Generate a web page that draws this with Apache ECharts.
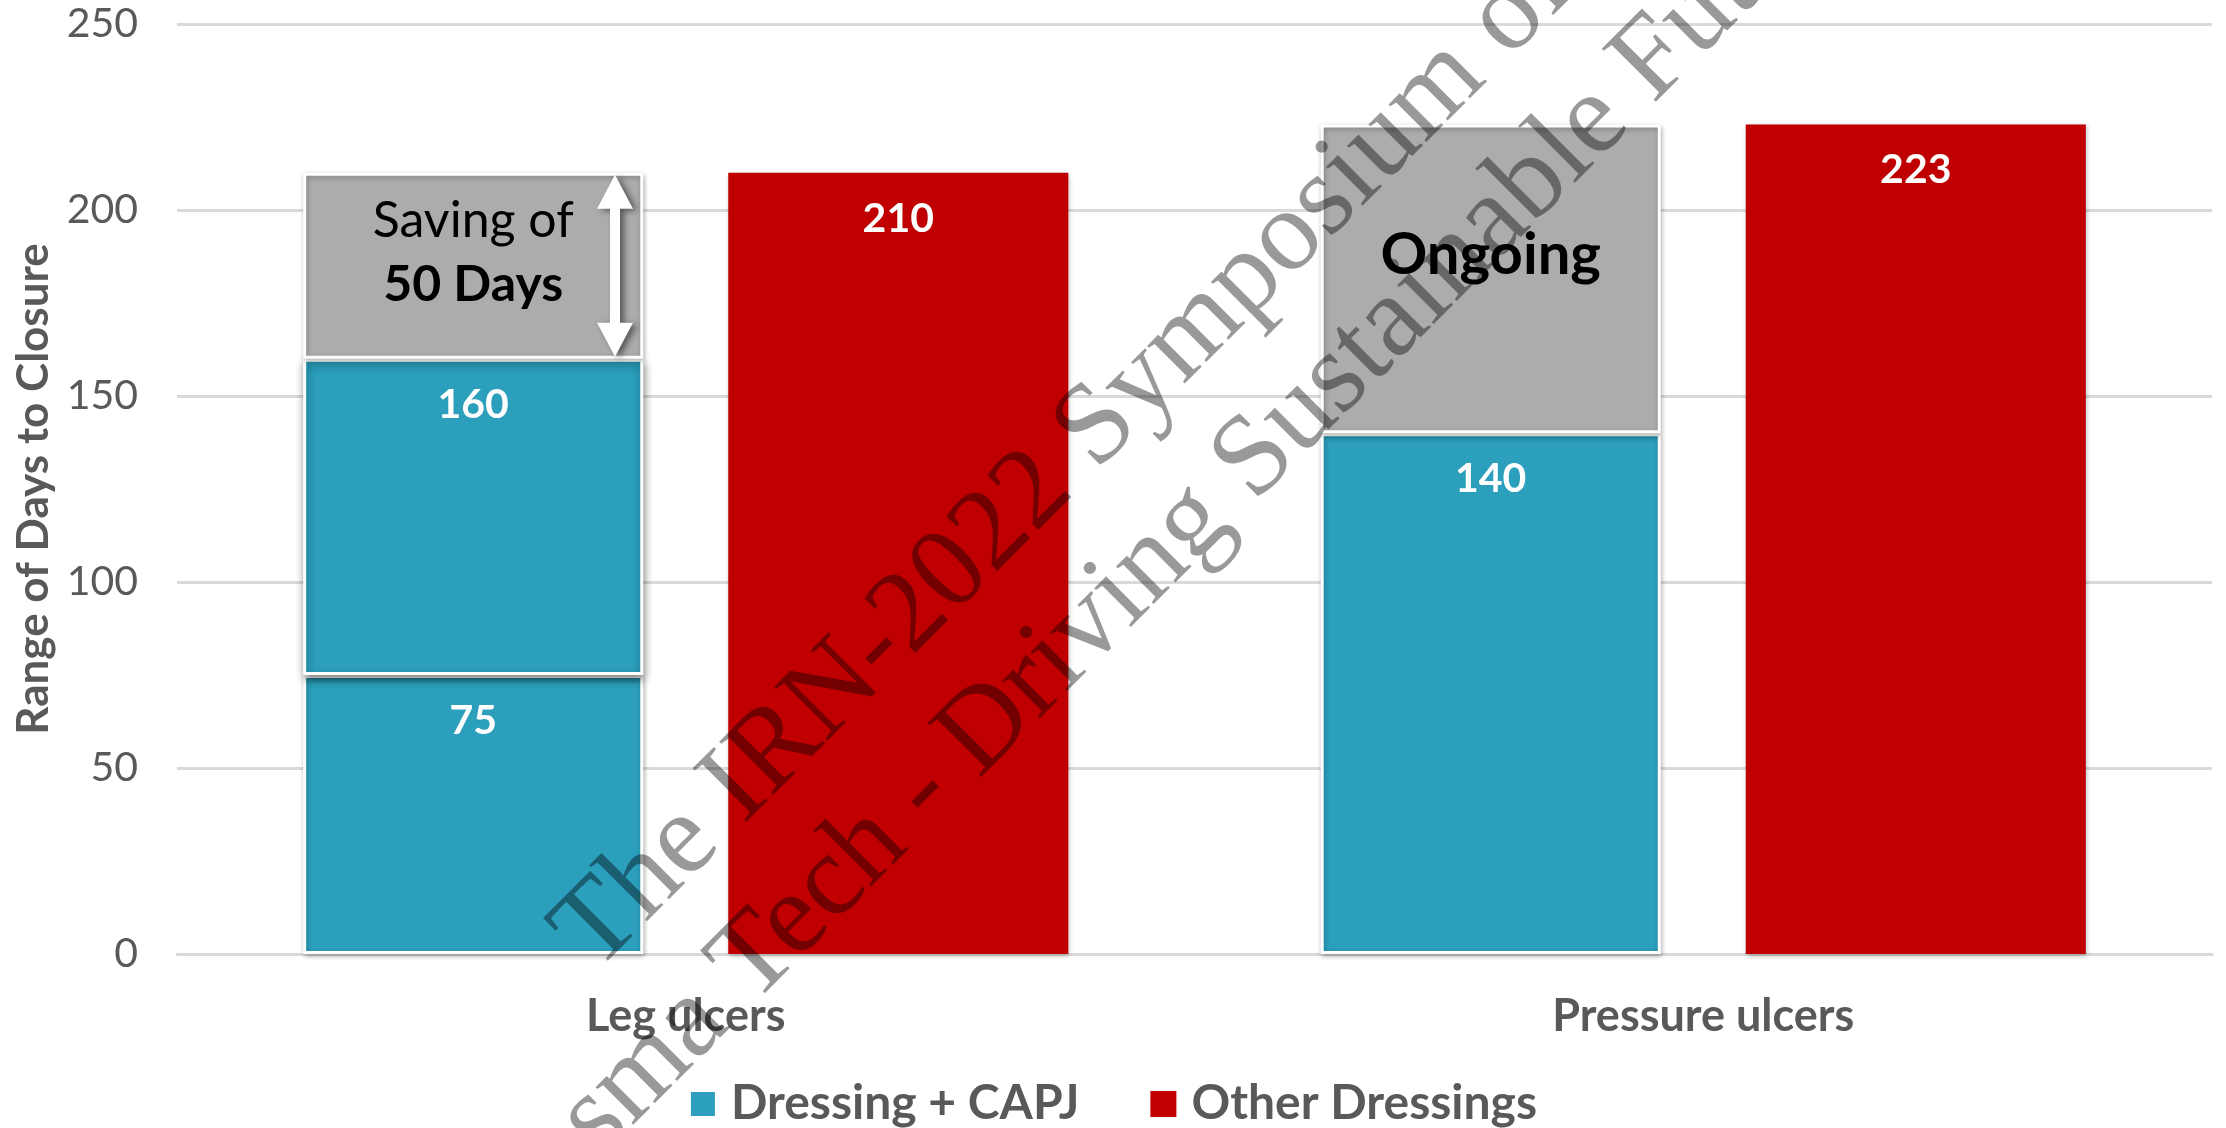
<!DOCTYPE html>
<html><head><meta charset="utf-8">
<script src="https://cdn.jsdelivr.net/npm/echarts@6/dist/echarts.min.js"></script>
<style>html,body{margin:0;padding:0;background:#fff}#c{width:2226px;height:1128px}</style>
</head><body><div id="c"></div>
<script>
// ---- data ----
const categories = ['Leg ulcers', 'Pressure ulcers'];
const capjLower = [75, 140];          // Dressing + CAPJ, first (lower) value
const capjUpper = [160, null];        // Dressing + CAPJ, upper value of range
const pendingTop = [210, 223];        // top of grey (saving / ongoing) segment
const otherDressings = [210, 223];    // Other Dressings
const pendingLabels = [['Saving of', '50 Days'], ['Ongoing']];
const legendNames = ['Dressing + CAPJ', 'Other Dressings'];
const yMin = 0, yMax = 250, yInterval = 50;
const yAxisTitle = 'Range of Days to Closure';
const watermarkLines = ['The IRN-2022 Symposium of', 'Plasma Tech - Driving Sustainable Future'];

// ---- styling ----
const BLUE = '#2B9FBC', RED = '#C00000', GREY = '#AEABAB', TXT = '#595959';
const FONT = 'Lato, "Open Sans", sans-serif';
const CAT_GAP = 0.248, BAR_GAP = 0.25;

const upperSeg = capjUpper.map((v, i) => v == null ? '-' : v - capjLower[i]);
const greySeg = pendingTop.map((t, i) => t - (capjUpper[i] == null ? capjLower[i] : capjUpper[i]));

const shadow = { shadowBlur: 5, shadowColor: 'rgba(0,0,0,0.3)', shadowOffsetX: 1, shadowOffsetY: 2 };
const valLabel = { show: true, position: 'insideTop', distance: 25, color: '#fff', fontFamily: FONT, fontWeight: 'bold', fontSize: 41 };

const greyData = greySeg.map((v, i) => {
  const lines = pendingLabels[i];
  if (lines.length > 1) {
    return { value: v, label: { show: true, position: 'inside', offset: [0, -13],
      formatter: '{a|' + lines[0] + '}\n{b|' + lines[1] + '}',
      rich: {
        a: { fontFamily: FONT, fontSize: 50, color: '#000', lineHeight: 64 },
        b: { fontFamily: FONT, fontSize: 50, fontWeight: 'bold', color: '#000', lineHeight: 64 }
      } } };
  }
  return { value: v, label: { show: true, position: 'inside', offset: [0, -24], formatter: lines[0],
    fontFamily: FONT, fontSize: 58, fontWeight: 'bold', color: '#000' } };
});

const arrowData = capjUpper.map((v, i) => v == null ? null : [i, v, pendingTop[i]]).filter(d => d);

const chart = echarts.init(document.getElementById('c'), null, { renderer: 'canvas' });
chart.setOption({
  animation: false,
  backgroundColor: '#fff',
  grid: { left: 177, right: 14, top: 24, bottom: 174, containLabel: false, outerBoundsMode: 'none' },
  legend: {
    data: legendNames, left: 'center', top: 1075, itemWidth: 26, itemHeight: 26, itemGap: 71,
    icon: 'rect', textStyle: { fontFamily: FONT, fontSize: 48, fontWeight: 'bold', color: TXT, padding: [0, 0, 0, 10], lineHeight: 48 }
  },
  xAxis: {
    type: 'category', data: categories,
    axisLine: { show: true, lineStyle: { color: '#D9D9D9', width: 3 } },
    axisTick: { show: false },
    axisLabel: { fontFamily: FONT, fontSize: 45, fontWeight: 'bold', color: TXT, margin: 40 }
  },
  yAxis: {
    type: 'value', min: yMin, max: yMax, interval: yInterval,
    name: yAxisTitle, nameLocation: 'middle', nameGap: 117,
    nameTextStyle: { fontFamily: FONT, fontSize: 44, fontWeight: 'bold', color: TXT },
    axisLine: { show: false }, axisTick: { show: false },
    axisLabel: { fontFamily: FONT, fontSize: 41, color: TXT, margin: 39 },
    splitLine: { lineStyle: { color: '#D9D9D9', width: 3 } }
  },
  series: [
    { name: legendNames[0], type: 'bar', stack: 'capj', data: capjLower,
      barCategoryGap: (CAT_GAP * 100) + '%', barGap: (BAR_GAP * 100) + '%',
      itemStyle: Object.assign({ color: BLUE, borderColor: '#fff', borderWidth: 3 }, shadow),
      label: valLabel },
    { name: legendNames[0], type: 'bar', stack: 'capj', data: upperSeg,
      itemStyle: Object.assign({ color: BLUE, borderColor: '#fff', borderWidth: 3 }, shadow, { shadowOffsetY: 4, shadowBlur: 8, shadowColor: 'rgba(0,0,0,0.45)' }),
      label: Object.assign({}, valLabel, { formatter: p => capjUpper[p.dataIndex] }) },
    { name: 'Pending', type: 'bar', stack: 'capj', data: greyData,
      itemStyle: Object.assign({ color: GREY, borderColor: '#fff', borderWidth: 3 }, shadow) },
    { name: legendNames[1], type: 'bar', stack: 'other', data: otherDressings,
      itemStyle: Object.assign({ color: RED }, shadow), label: valLabel },
    { name: 'arrow', type: 'custom', data: arrowData, z: 5, silent: true,
      renderItem: function (params, api) {
        const cat = api.value(0);
        const pTop = api.coord([cat, api.value(2)]);
        const pBot = api.coord([cat, api.value(1)]);
        const band = api.size([1, 0])[0];
        const bw = band * (1 - CAT_GAP) / (2 + BAR_GAP);
        const groupLeft = pTop[0] - (2 * bw + BAR_GAP * bw) / 2;
        const ax = groupLeft + bw - bw * 0.083;
        const yT = pTop[1] + 2, yB = pBot[1] - 2;
        const hw = 18, sw = 5, hl = 34;
        return { type: 'polygon', shape: { points: [
            [ax, yT], [ax + hw, yT + hl], [ax + sw, yT + hl], [ax + sw, yB - hl], [ax + hw, yB - hl],
            [ax, yB], [ax - hw, yB - hl], [ax - sw, yB - hl], [ax - sw, yT + hl], [ax - hw, yT + hl]] },
          style: { fill: '#fff', shadowBlur: 6, shadowOffsetX: 4, shadowOffsetY: 2, shadowColor: 'rgba(0,0,0,0.5)' } };
      } }
  ],
  graphic: [{
    type: 'text', x: 1112, y: 508, rotation: Math.PI / 4, z: 100, silent: true,
    style: { text: watermarkLines.join('\n'), fontFamily: '"Liberation Serif", "DejaVu Serif", serif', fontSize: 116,
      fill: 'rgba(0,0,0,0.4)', align: 'center', verticalAlign: 'middle', lineHeight: 134 }
  }]
});
</script></body></html>
